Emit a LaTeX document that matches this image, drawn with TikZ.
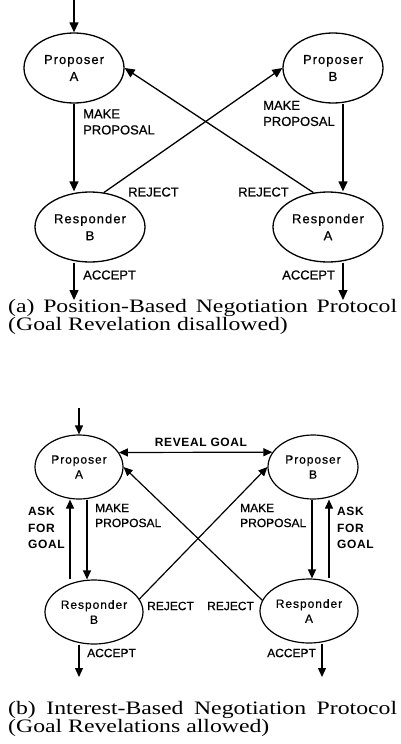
\documentclass[tikz,border=0pt]{standalone}
\usepackage{fontspec}
\setmainfont{Liberation Serif}
\newfontfamily\captfont[FakeStretch=1.25]{Liberation Serif}
\newfontfamily\statefont[LetterSpace=8,FakeBold=0.6]{Liberation Sans}
\newfontfamily\labelfont[FakeBold=0.6]{Liberation Sans}
\newfontfamily\goalfont[LetterSpace=5]{Liberation Sans}
\usetikzlibrary{shapes.geometric,arrows.meta}
\begin{document}
\begin{tikzpicture}[x=1pt, y=-1pt,
    statea/.style={ellipse, draw, line width=1.3pt, inner sep=0pt, align=center, font=\statefont\fontsize{13}{17}\selectfont},
    stateb/.style={ellipse, draw, line width=1.2pt, inner sep=0pt, align=center, font=\statefont\fontsize{12}{15}\selectfont},
    lbla/.style={anchor=west, inner sep=0pt, align=left, font=\labelfont\fontsize{13}{16}\selectfont},
    lblb/.style={anchor=west, inner sep=0pt, align=left, font=\labelfont\fontsize{12}{15}\selectfont},
    goallbl/.style={anchor=west, inner sep=0pt, align=left, font=\goalfont\bfseries\fontsize{12}{16.5}\selectfont},
    capt/.style={anchor=base west, inner sep=0pt, font=\captfont\fontsize{19}{18}\selectfont},
    arrowa/.style={->, >={Triangle[length=10pt,width=9pt]}, line width=1.3pt},
    arrowb/.style={->, >={Triangle[length=9pt,width=8pt]}, line width=1.2pt}
]
\useasboundingbox (0,0) rectangle (400,744);
% (a) position-based
\node[statea, minimum width=100pt, minimum height=70pt] (propa) at (74,68)  {Proposer\\A};
\node[statea, minimum width=100pt, minimum height=70pt] (propb) at (333,68) {Proposer\\B};
\node[statea, minimum width=110pt, minimum height=70pt] (respb) at (90,227) {Responder\\B};
\node[statea, minimum width=110pt, minimum height=70pt] (respa) at (328,227) {Responder\\A};
\coordinate (starta)  at (74,0);
\coordinate (acceptb) at (74,300);
\coordinate (accepta) at (343,300);
\draw[arrowa] (starta) -- (propa);
\draw[arrowa] (propa) -- ([xshift=-16pt]respb.north);
\draw[arrowa] ([xshift=10pt]propb.south) -- ([xshift=15pt]respa.north);
\draw[arrowa] (respb.68) -- (propb.west);
\draw[arrowa] (respa.113) -- (propa.east);
\draw[arrowa] ([xshift=-16pt]respb.south) -- (acceptb);
\draw[arrowa] ([xshift=15pt]respa.south) -- (accepta);
\node[lbla] (mpa) at (83,122)   {MAKE\\PROPOSAL};
\node[lbla] (mpb) at (263,113.5) {MAKE\\PROPOSAL};
\node[lbla] (rja) at (128,192)  {REJECT};
\node[lbla] (rjb) at (238,192)  {REJECT};
\node[lbla] (aca) at (83,275)   {ACCEPT};
\node[lbla] (acb) at (282,275)  {ACCEPT};
\node[capt] (capa1) at (8,312) {\makebox[389pt][s]{(a) Position-Based Negotiation Protocol}};
\node[capt] (capa2) at (8,330) {(Goal Revelation disallowed)};
% (b) interest-based
\node[stateb, minimum width=88pt, minimum height=64pt] (bpropa) at (79,467)  {Proposer\\A};
\node[stateb, minimum width=90pt, minimum height=64pt] (bpropb) at (313,467) {Proposer\\B};
\node[stateb, minimum width=98pt, minimum height=64pt] (brespb) at (94,612)  {Responder\\B};
\node[stateb, minimum width=98pt, minimum height=64pt] (brespa) at (309,611) {Responder\\A};
\coordinate (startb)   at (79,408);
\coordinate (bacceptb) at (79,677);
\coordinate (baccepta) at (322,677);
\draw[arrowb] (startb) -- (bpropa);
\draw[arrowb, <->] (bpropa.20) -- (bpropb.160);
\draw[arrowb] ([xshift=-24pt]brespb.north) -- ([xshift=-9pt]bpropa.south);
\draw[arrowb] ([xshift=8pt]bpropa.south) -- ([xshift=-7pt]brespb.north);
\draw[arrowb] ([xshift=-1pt]bpropb.south) -- ([xshift=3pt]brespa.north);
\draw[arrowb] ([xshift=20pt]brespa.north) -- ([xshift=16pt]bpropb.south);
\draw[arrowb] (brespb.16) -- (bpropb.west);
\draw[arrowb] (brespa.167) -- (bpropa.east);
\draw[arrowb] ([xshift=-15pt]brespb.south) -- (bacceptb);
\draw[arrowb] ([xshift=13pt]brespa.south) -- (baccepta);
\node[goallbl, anchor=center] (rvg) at (201,442) {REVEAL GOAL};
\node[goallbl] (askl) at (28,528)  {ASK\\FOR\\GOAL};
\node[goallbl] (askr) at (337,528) {ASK\\FOR\\GOAL};
\node[lblb] (bmpa) at (95,515.5)  {MAKE\\PROPOSAL};
\node[lblb] (bmpb) at (240,515.5) {MAKE\\PROPOSAL};
\node[lblb] (brja) at (147,606) {REJECT};
\node[lblb] (brjb) at (207,606) {REJECT};
\node[lblb] (baca) at (87,653)  {ACCEPT};
\node[lblb] (bacb) at (267,653) {ACCEPT};
\node[capt] (capb1) at (8,714) {\makebox[389pt][s]{(b) Interest-Based Negotiation Protocol}};
\node[capt] (capb2) at (8,732) {(Goal Revelations allowed)};
\end{tikzpicture}
\end{document}
